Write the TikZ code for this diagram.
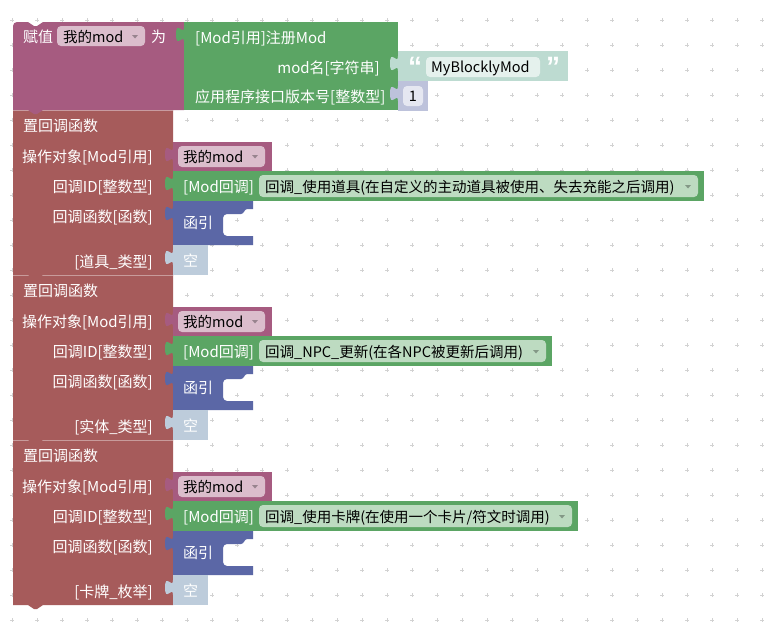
\documentclass[tikz,border=0pt]{standalone}
\usepackage{fontspec}
\setmainfont{Noto Sans CJK SC}
\newfontfamily\quotefont{Liberation Sans}
\newcommand\blkfont{\fontsize{15}{17}\selectfont}
\newcommand\fldfont{\fontsize{14.5}{17}\selectfont}

% block colours (hue based) and the lighter field / shadow-block tints
\definecolor{cAssign}{HTML}{A65B80}
\definecolor{cMod}{HTML}{5BA564}
\definecolor{cRed}{HTML}{A65B5B}
\definecolor{cFunc}{HTML}{5B67A6}
\definecolor{cStr}{HTML}{BDDBD1}
\definecolor{cNum}{HTML}{BDC2DB}
\definecolor{cNull}{HTML}{BDCCDB}
\definecolor{fPink}{HTML}{DBBDCC}
\definecolor{fGreen}{HTML}{BDDBC1}
\definecolor{fStr}{HTML}{E5F1ED}
\definecolor{fNum}{HTML}{E5E7F1}
\definecolor{gridc}{HTML}{D2D2D2}

% output tab of a value block whose left edge is at x=#1, top at y=#2
\newcommand\puzzletab[3]{%
  \fill[#3] (#1,#2+5) .. controls (#1,#2+15) and (#1-8,#2-3) .. (#1-8,#2+12.5)
     .. controls (#1-8,#2+28) and (#1,#2+10) .. (#1,#2+20) -- cycle;}
% small dropdown triangle centred at (#1,#2)
\newcommand\ddarrow[2]{%
  \fill[black,opacity=.3] (#1-3,#2-1.5) -- (#1+3,#2-1.5) -- (#1,#2+2) -- cycle;}

% one "set callback" statement block with its four value inputs
% #1 top y, #2 right edge of callback block, #3 type label, #4 callback text, #5 suffix
\newcommand\cbblock[5]{%
  \fill[cRed] (13,#1) -- (173,#1) -- (173,#1+165) -- (43,#1+165) -- (37,#1+169)
     -- (34,#1+169) -- (28,#1+165) -- (13,#1+165) -- cycle;
  \draw[cRed!55!white,line width=0.8pt] (13,#1+0.4) -- (173,#1+0.4);
  \node[wtxt,anchor=west] (title#5) at (23,#1+16) {置回调函数};
  \node[wtxt,anchor=east] (lobj#5) at (153,#1+46.5) {操作对象[Mod引用]};
  \node[wtxt,anchor=east] (lid#5) at (153,#1+76.5) {回调ID[整数型]};
  \node[wtxt,anchor=east] (lfn#5) at (153,#1+107) {回调函数[函数]};
  \node[wtxt,anchor=east] (ltype#5) at (153,#1+151.5) {#3};
  % variable reference
  \fill[cAssign] (173,#1+32) rectangle (272,#1+61);
  \puzzletab{173}{#1+32}{cAssign}
  \fill[fPink,rounded corners=4] (178,#1+36) rectangle (265,#1+57);
  \node[btxt,anchor=west] (var#5) at (183,#1+46.5) {我的mod};
  \ddarrow{255}{#1+46.5}
  % callback id
  \fill[cMod] (173,#1+61) rectangle (#2,#1+91);
  \puzzletab{173}{#1+61}{cMod}
  \node[wtxt,anchor=west] (cbk#5) at (183,#1+76.5) {[Mod回调]};
  \fill[fGreen,rounded corners=4] (259,#1+65) rectangle (#2-6,#1+87);
  \node[btxt,anchor=west] (cbv#5) at (265,#1+76.5) {#4};
  \ddarrow{#2-16}{#1+76.5}
  % function reference with its empty slot
  \fill[cFunc] (173,#1+91) -- (253,#1+91) -- (253,#1+99) -- (247,#1+99)
     .. controls (244.5,#1+99) and (244,#1+104) .. (241,#1+104) -- (227,#1+104)
     .. controls (224.8,#1+104) and (223,#1+105.8) .. (223,#1+108) -- (223,#1+122)
     .. controls (223,#1+124.2) and (224.8,#1+126) .. (227,#1+126) -- (253,#1+126)
     -- (253,#1+135) -- (173,#1+135) -- cycle;
  \puzzletab{173}{#1+91}{cFunc}
  \node[wtxt,anchor=west] (fref#5) at (183,#1+113) {函引};
  % null shadow value
  \fill[cNull] (173,#1+135) rectangle (208,#1+165);
  \puzzletab{173}{#1+135}{cNull}
  \node[wtxt,anchor=west] (null#5) at (183,#1+150.5) {空};
}

\begin{document}
\begin{tikzpicture}[x=1pt,y=-1pt,
  wtxt/.style={text=white,font=\blkfont,inner sep=0pt,text height=11pt,text depth=0pt},
  btxt/.style={text=black,font=\fldfont,inner sep=0pt,text height=11pt,text depth=0pt},
  qtxt/.style={text=white,font=\quotefont\bfseries\fontsize{28}{28}\selectfont,inner sep=0pt}]
\useasboundingbox (0,0) rectangle (770,621);
\fill[white] (0,0) rectangle (770,621);

% workspace grid
\foreach \i in {0,...,30}
  \foreach \j in {0,...,24}
    \draw[gridc,line width=0.8pt] ({12+25*\i-1.6},{20+25*\j}) -- ++(3.2,0)
      ({12+25*\i},{20+25*\j-1.6}) -- ++(0,3.2);

% callback blocks, lowest first so each upper tab overlays the block below
\cbblock{440}{578}{[卡牌\_枚举]}{回调\_使用卡牌(在使用一个卡片/符文时调用)}{c}
\cbblock{275}{552}{[实体\_类型]}{回调\_NPC\_更新(在各NPC被更新后调用)}{b}
\cbblock{110}{704}{[道具\_类型]}{回调\_使用道具(在自定义的主动道具被使用、失去充能之后调用)}{a}

% assignment block
\fill[cAssign] (13,110) -- (13,26) .. controls (13,23.8) and (14.8,22) .. (17,22)
   -- (28,22) -- (34,26) -- (37,26) -- (43,22) -- (184,22) -- (184,110)
   -- (43,110) -- (37,114) -- (34,114) -- (28,110) -- cycle;
\node[wtxt,anchor=west] (assign) at (23,36.5) {赋值};
\fill[fPink,rounded corners=4] (57,26) rectangle (145,46);
\node[btxt,anchor=west] (var0) at (63,36.5) {我的mod};
\ddarrow{135}{36.5}
\node[wtxt,anchor=west] (as) at (151,36.5) {为};

% mod registration block
\fill[cMod] (184,22) rectangle (398,110);
\puzzletab{184}{22}{cMod}
\node[wtxt,anchor=west] (reg) at (195,37.5) {[Mod引用]注册Mod};
\node[wtxt,anchor=east] (mname) at (380,67.5) {mod名[字符串]};
\node[wtxt,anchor=west] (api) at (195,97) {应用程序接口版本号[整数型]};

% string value
\fill[cStr] (398,51) rectangle (568,81);
\puzzletab{398}{51}{cStr}
\node[qtxt] (lq) at (415,67) {“};
\fill[fStr,rounded corners=4] (426,57) rectangle (540,77);
\node[btxt,anchor=west] (modname) at (431,67) {MyBlocklyMod};
\node[qtxt] (rq) at (553,67) {”};

% number value
\fill[cNum] (398,81) rectangle (428,111);
\puzzletab{398}{81}{cNum}
\fill[fNum,rounded corners=4] (403,86) rectangle (423,106);
\node[btxt] (one) at (413,96) {1};
\end{tikzpicture}
\end{document}
